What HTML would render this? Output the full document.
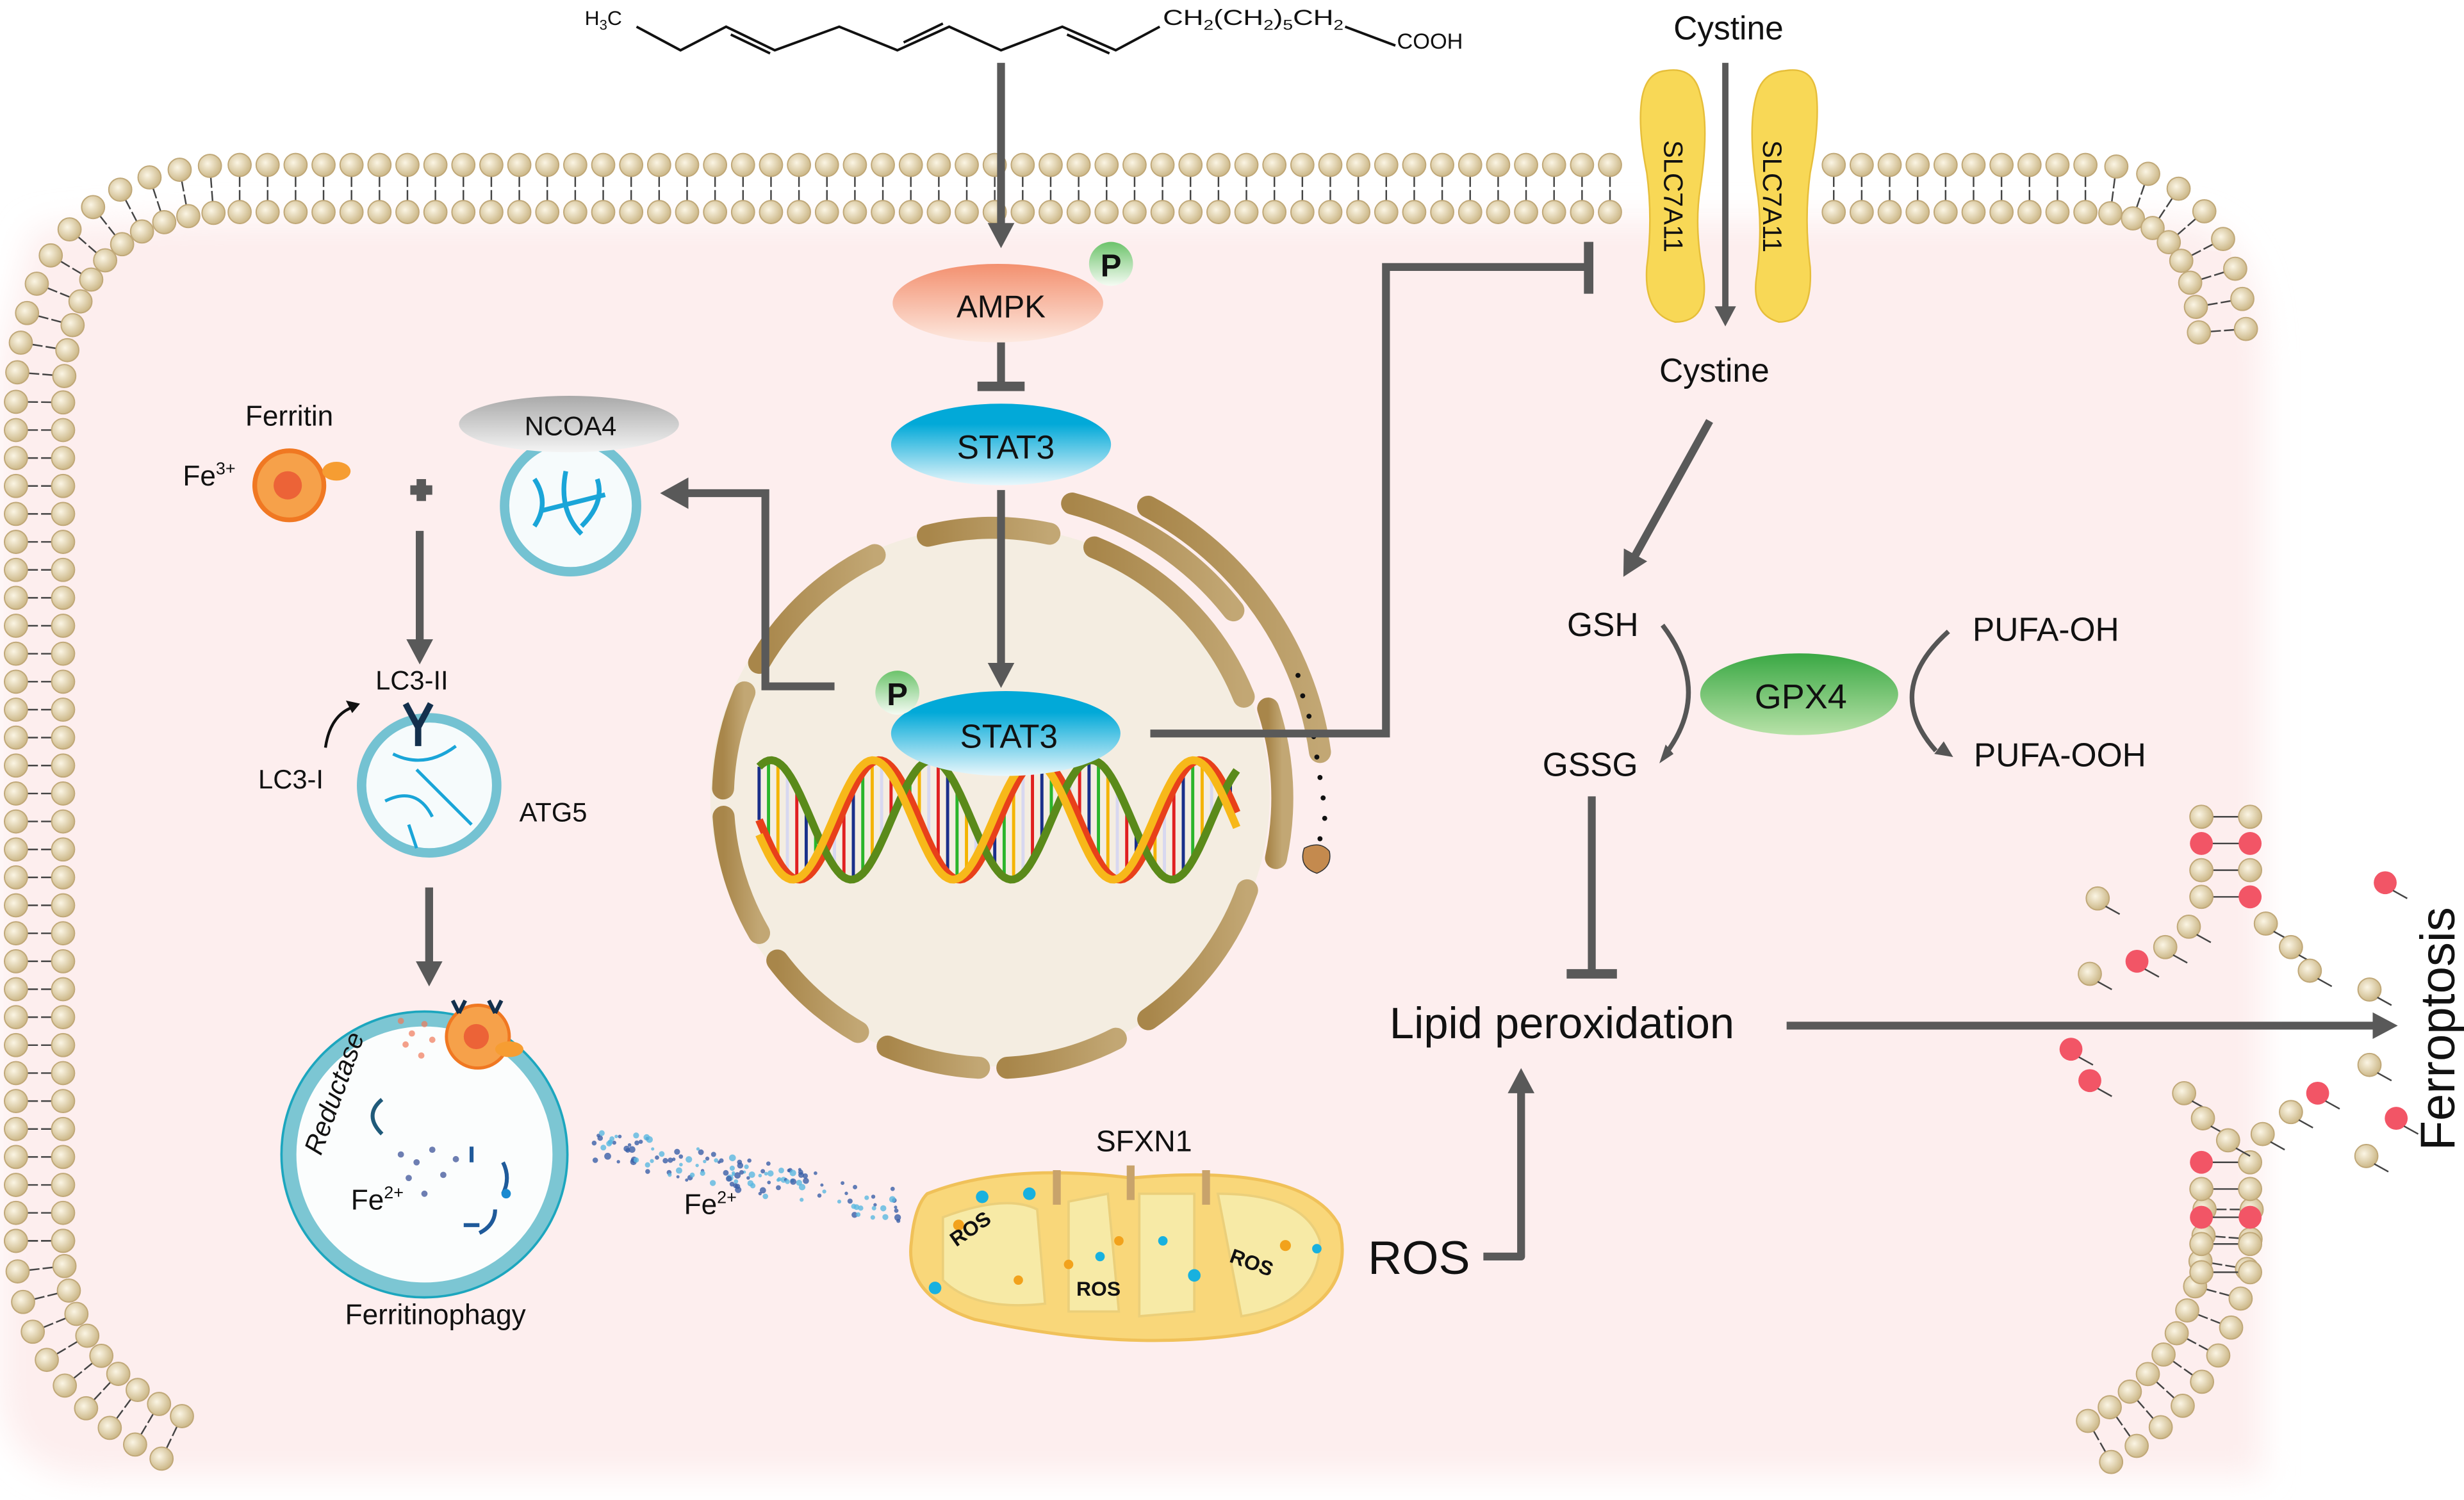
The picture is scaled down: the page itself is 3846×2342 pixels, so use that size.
<!DOCTYPE html>
<html><head><meta charset="utf-8">
<style>
html,body{margin:0;padding:0;background:#fff;}
svg{display:block;}
text{font-family:"Liberation Sans",Arial,sans-serif;fill:#111;}
</style></head>
<body>
<svg id="s" width="3846" height="2342" viewBox="0 0 1568 955" xmlns="http://www.w3.org/2000/svg">
<defs>
<radialGradient id="bead" cx="0.4" cy="0.4" r="0.6"><stop offset="0" stop-color="#fbf5e4"/><stop offset="1" stop-color="#cdb98a"/></radialGradient>
<linearGradient id="ampk" x1="0" y1="0" x2="0" y2="1"><stop offset="0" stop-color="#f3906f"/><stop offset="1" stop-color="#fde9e0"/></linearGradient>
<linearGradient id="stat" x1="0" y1="0" x2="0" y2="1"><stop offset="0.25" stop-color="#02a9d8"/><stop offset="1" stop-color="#e9f7fc"/></linearGradient>
<linearGradient id="gpx" x1="0" y1="0" x2="0" y2="1"><stop offset="0" stop-color="#3aa844"/><stop offset="1" stop-color="#b8e2a8"/></linearGradient>
<linearGradient id="pgr" x1="0" y1="0" x2="0" y2="1"><stop offset="0" stop-color="#6cc36b"/><stop offset="1" stop-color="#f5fbf3"/></linearGradient>
<linearGradient id="ncoa" x1="0" y1="0" x2="0" y2="1"><stop offset="0" stop-color="#a9a9a9"/><stop offset="1" stop-color="#f4f4f4"/></linearGradient>
<linearGradient id="brown" x1="0" y1="0" x2="1" y2="0"><stop offset="0" stop-color="#a8864a"/><stop offset="1" stop-color="#c2a774"/></linearGradient>
<filter id="blur" x="-10%" y="-10%" width="120%" height="120%"><feGaussianBlur stdDeviation="10"/></filter>
<marker id="ah" markerWidth="4" markerHeight="4" refX="2" refY="2" orient="auto" markerUnits="strokeWidth"><path d="M0,0.3 L3.2,2 L0,3.7 Z" fill="#595959"/></marker>
</defs>

<path d="M 20 150 Q 20 140 150 140 L 1380 140 Q 1440 140 1440 230 L 1440 520 L 1440 940 L 60 940 Q 0 940 0 880 L 0 230 Z" fill="#fdeeee" filter="url(#blur)"/>
<rect x="60" y="160" width="1360" height="760" fill="#fdeeee"/>

<g id="mem"></g>

<g fill="none" stroke="#111" stroke-width="1.6">
<polyline points="405,17 433,32 462,17 493,32 534,17 571,32 604,17 637,32 676,17 710,32 738,17"/>
<line x1="465" y1="22" x2="490" y2="34"/><line x1="575" y1="27" x2="600" y2="15"/><line x1="679" y1="22" x2="706" y2="34"/>
<line x1="856" y1="17" x2="888" y2="29"/>
</g>
<text x="372" y="16" font-size="13">H<tspan font-size="9" dy="3">3</tspan><tspan dy="-3">C</tspan></text>
<text x="740" y="16" font-size="14" textLength="115" lengthAdjust="spacingAndGlyphs">CH<tspan font-size="9" dy="3">2</tspan><tspan dy="-3">(CH</tspan><tspan font-size="9" dy="3">2</tspan><tspan dy="-3">)</tspan><tspan font-size="9" dy="3">5</tspan><tspan dy="-3">CH</tspan><tspan font-size="9" dy="3">2</tspan></text>
<text x="889" y="31" font-size="14">COOH</text>

<ellipse cx="630" cy="507" rx="178" ry="172" fill="#f4ede1"/>
<g id="ring" fill="none" stroke="url(#brown)" stroke-width="14" stroke-linecap="round"></g>
<g fill="#111"><circle cx="826" cy="430" r="1.6"/><circle cx="829" cy="443" r="1.6"/><circle cx="833" cy="456" r="1.6"/><circle cx="836" cy="469" r="1.6"/><circle cx="838" cy="482" r="1.6"/><circle cx="840" cy="495" r="1.6"/><circle cx="842" cy="508" r="1.6"/><circle cx="843" cy="521" r="1.6"/><circle cx="840" cy="534" r="1.6"/></g>
<path d="M 830 540 Q 840 535 846 542 Q 848 552 838 556 Q 826 552 830 540 Z" fill="#c48a4e" stroke="#333" stroke-width="0.6"/>

<g id="dna"></g>

<line x1="637" y1="40" x2="637" y2="152" stroke="#595959" stroke-width="5" marker-end="url(#ah)"/>
<ellipse cx="635" cy="193" rx="67" ry="25" fill="url(#ampk)"/>
<text x="637" y="202" font-size="20" text-anchor="middle">AMPK</text>
<circle cx="707" cy="168" r="14" fill="url(#pgr)"/>
<text x="707" y="176" font-size="20" font-weight="bold" text-anchor="middle">P</text>
<line x1="637" y1="218" x2="637" y2="246" stroke="#595959" stroke-width="5"/>
<line x1="622" y1="246" x2="652" y2="246" stroke="#595959" stroke-width="6"/>
<ellipse cx="637" cy="283" rx="70" ry="26" fill="url(#stat)"/>
<text x="640" y="292" font-size="21" text-anchor="middle">STAT3</text>
<line x1="637" y1="312" x2="637" y2="432" stroke="#595959" stroke-width="5" marker-end="url(#ah)"/>
<ellipse cx="640" cy="467" rx="73" ry="27" fill="url(#stat)"/>
<text x="642" y="476" font-size="21" text-anchor="middle">STAT3</text>
<circle cx="571" cy="441" r="14" fill="url(#pgr)"/>
<text x="571" y="449" font-size="20" font-weight="bold" text-anchor="middle">P</text>

<polyline points="531,437 487,437 487,314 436,314" fill="none" stroke="#595959" stroke-width="5"/>
<path d="M 420 314 L 438 304 L 438 324 Z" fill="#595959"/>
<polyline points="732,467 882,467 882,170 1010,170" fill="none" stroke="#595959" stroke-width="5"/>
<line x1="1011" y1="154" x2="1011" y2="187" stroke="#595959" stroke-width="6"/>

<path d="M 1060 45 Q 1078 42 1082 60 Q 1088 80 1082 120 Q 1078 145 1084 175 Q 1088 205 1066 205 Q 1046 200 1048 170 Q 1052 140 1048 110 Q 1042 80 1045 62 Q 1048 46 1060 45 Z" fill="#f8d856" stroke="#e6be3a" stroke-width="1"/>
<path d="M 1136 45 Q 1154 42 1156 60 Q 1158 80 1152 110 Q 1148 140 1152 170 Q 1154 205 1132 205 Q 1114 200 1118 175 Q 1122 145 1118 120 Q 1112 80 1118 60 Q 1122 46 1136 45 Z" fill="#f8d856" stroke="#e6be3a" stroke-width="1"/>
<text transform="translate(1059,125) rotate(90)" font-size="17" text-anchor="middle">SLC7A11</text>
<text transform="translate(1122,125) rotate(90)" font-size="17" text-anchor="middle">SLC7A11</text>
<text x="1100" y="25" font-size="21" text-anchor="middle">Cystine</text>
<line x1="1098" y1="40" x2="1098" y2="203" stroke="#595959" stroke-width="4" marker-end="url(#ah)"/>
<text x="1091" y="243" font-size="21" text-anchor="middle">Cystine</text>
<line x1="1088" y1="268" x2="1036" y2="362" stroke="#595959" stroke-width="5" marker-end="url(#ah)"/>

<text x="1020" y="405" font-size="21" text-anchor="middle">GSH</text>
<text x="1012" y="494" font-size="21" text-anchor="middle">GSSG</text>
<path d="M 1058 398 Q 1090 440 1060 480" fill="none" stroke="#555" stroke-width="3"/>
<path d="M 1056 486 l 4 -12 l 5 6 Z" fill="#555"/>
<ellipse cx="1145" cy="442" rx="63" ry="26" fill="url(#gpx)"/>
<text x="1146" y="451" font-size="22" text-anchor="middle">GPX4</text>
<path d="M 1240 402 Q 1198 440 1232 478" fill="none" stroke="#555" stroke-width="3"/>
<path d="M 1243 482 l -12 -2 l 6 -8 Z" fill="#555"/>
<text x="1302" y="408" font-size="21" text-anchor="middle">PUFA-OH</text>
<text x="1311" y="488" font-size="21" text-anchor="middle">PUFA-OOH</text>
<line x1="1013" y1="507" x2="1013" y2="620" stroke="#595959" stroke-width="5"/>
<line x1="997" y1="620" x2="1029" y2="620" stroke="#595959" stroke-width="6"/>
<text x="994" y="661" font-size="28" text-anchor="middle">Lipid peroxidation</text>
<line x1="1137" y1="653" x2="1520" y2="653" stroke="#595959" stroke-width="5" marker-end="url(#ah)"/>
<text transform="translate(1562,655) rotate(-90)" font-size="31" text-anchor="middle">Ferroptosis</text>

<text x="903" y="811" font-size="30" text-anchor="middle">ROS</text>
<polyline points="944,800 968,800 968,686" fill="none" stroke="#595959" stroke-width="5" stroke-linejoin="round" marker-end="url(#ah)"/>
<g>
<path d="M 590 760 Q 640 740 720 750 Q 830 740 852 780 Q 865 830 800 848 Q 720 862 620 840 Q 575 825 580 790 Q 582 768 590 760 Z" fill="#f9d77a" stroke="#f0c159" stroke-width="2"/>
<path d="M 600 775 Q 640 760 660 770 L 665 830 Q 620 835 600 815 Z M 680 765 L 705 760 L 712 835 L 680 835 Z M 725 760 L 760 760 L 760 835 L 725 838 Z M 775 760 Q 830 760 840 790 Q 840 830 790 838 Z" fill="#f7eaa6" stroke="#ebcf7a" stroke-width="1.5"/>
<g fill="#18b1df"><circle cx="625" cy="762" r="4"/><circle cx="655" cy="760" r="4"/><circle cx="700" cy="800" r="3"/><circle cx="760" cy="812" r="4"/><circle cx="595" cy="820" r="4"/><circle cx="740" cy="790" r="3"/><circle cx="838" cy="795" r="3"/></g>
<g fill="#f2a21c"><circle cx="610" cy="780" r="3.5"/><circle cx="680" cy="805" r="3"/><circle cx="712" cy="790" r="3"/><circle cx="818" cy="793" r="3.5"/><circle cx="648" cy="815" r="3"/></g>
<g fill="#c8a36b"><rect x="670" y="745" width="5" height="22"/><rect x="717" y="742" width="5" height="22"/><rect x="765" y="745" width="5" height="22"/></g>
<g font-size="13" font-weight="bold"><text transform="translate(620,786) rotate(-35)" text-anchor="middle">ROS</text><text x="699" y="825" text-anchor="middle">ROS</text><text transform="translate(795,808) rotate(20)" text-anchor="middle">ROS</text></g>
</g>
<text x="728" y="733" font-size="19" text-anchor="middle">SFXN1</text>
<text x="452" y="773" font-size="18" text-anchor="middle">Fe<tspan font-size="11" dy="-7">2+</tspan></text>
<g id="fedots"></g>

<text x="184" y="271" font-size="18" text-anchor="middle">Ferritin</text>
<text x="133" y="309" font-size="18" text-anchor="middle">Fe<tspan font-size="11" dy="-7">3+</tspan></text>
<circle cx="184" cy="309" r="22" fill="#f6a14a" stroke="#f07822" stroke-width="3"/>
<circle cx="183" cy="309" r="9" fill="#e63b2b" opacity="0.6"/>
<ellipse cx="214" cy="300" rx="9" ry="6" fill="#f69d32"/>
<path d="M 261 312 h 14 M 268 305 v 14" stroke="#595959" stroke-width="6"/>
<circle cx="363" cy="322" r="42" fill="#f6fbfc" stroke="#74c2d2" stroke-width="6"/>
<g stroke="#1aa5d8" stroke-width="3" fill="none"><path d="M 340 305 q 10 15 0 30"/><path d="M 360 300 q -5 25 10 40"/><path d="M 380 305 q 5 15 -10 30"/><path d="M 345 325 l 40 -10"/></g>
<ellipse cx="362" cy="270" rx="70" ry="18" fill="url(#ncoa)"/>
<text x="363" y="277" font-size="17" text-anchor="middle">NCOA4</text>
<line x1="267" y1="338" x2="267" y2="417" stroke="#595959" stroke-width="5" marker-end="url(#ah)"/>

<circle cx="273" cy="500" r="43" fill="#f6fbfc" stroke="#74c2d2" stroke-width="6"/>
<g stroke="#1aa5d8" stroke-width="2" fill="none"><path d="M 250 480 q 20 10 40 -5"/><path d="M 245 510 q 20 -10 30 10"/><path d="M 265 490 q 20 20 35 35"/><path d="M 260 525 l 5 15"/></g>
<path d="M 258 448 l 8 15 l 8 -15 M 266 463 v 12" stroke="#13304d" stroke-width="4" fill="none"/>
<text x="262" y="439" font-size="17" text-anchor="middle">LC3-II</text>
<text x="185" y="502" font-size="17" text-anchor="middle">LC3-I</text>
<text x="352" y="523" font-size="17" text-anchor="middle">ATG5</text>
<path d="M 207 476 Q 210 455 225 450" fill="none" stroke="#111" stroke-width="1.8"/>
<path d="M 229 448 l -9 -2 l 4 8 Z" fill="#111"/>
<line x1="273" y1="565" x2="273" y2="622" stroke="#595959" stroke-width="5" marker-end="url(#ah)"/>

<circle cx="270" cy="735" r="86" fill="#fbfdfd" stroke="#7cc6d3" stroke-width="9"/>
<circle cx="270" cy="735" r="91" fill="none" stroke="#1ca6be" stroke-width="1.5"/>
<text transform="translate(218,698) rotate(-70)" font-size="17" font-style="italic" text-anchor="middle">Reductase</text>
<circle cx="304" cy="660" r="20" fill="#f6a14a" stroke="#f07822" stroke-width="2"/>
<circle cx="303" cy="660" r="8" fill="#e63b2b" opacity="0.6"/>
<ellipse cx="324" cy="668" rx="9" ry="5" fill="#f69d32"/>
<path d="M 292 645 l -4 -8 M 292 645 l 4 -8 M 315 645 l -4 -8 M 315 645 l 4 -8" stroke="#13304d" stroke-width="2.5"/>
<g fill="#f07a5a" opacity="0.7"><circle cx="255" cy="650" r="2"/><circle cx="262" cy="658" r="2"/><circle cx="270" cy="652" r="2"/><circle cx="258" cy="665" r="2"/><circle cx="275" cy="662" r="2"/><circle cx="268" cy="672" r="2"/></g>
<path d="M 243 700 q -12 10 0 22" fill="none" stroke="#1f5a7a" stroke-width="2.5"/>
<g fill="#4a5fa0" opacity="0.8"><circle cx="255" cy="735" r="2"/><circle cx="265" cy="740" r="2"/><circle cx="275" cy="732" r="2"/><circle cx="260" cy="750" r="2"/><circle cx="282" cy="748" r="2"/><circle cx="270" cy="760" r="2"/><circle cx="290" cy="738" r="2"/></g>
<path d="M 300 730 v 10 M 320 740 q 5 10 0 20 M 295 780 h 10 M 315 770 q 0 10 -10 15" stroke="#1f5a9a" stroke-width="2.5" fill="none"/>
<circle cx="322" cy="760" r="3" fill="#1a8ad0"/>
<text x="240" y="770" font-size="18" text-anchor="middle">Fe<tspan font-size="11" dy="-7">2+</tspan></text>
<text x="277" y="843" font-size="18" text-anchor="middle">Ferritinophagy</text>

<script>
(function(){
var NS="http://www.w3.org/2000/svg";
function el(p,t,a){var e=document.createElementNS(NS,t);for(var k in a)e.setAttribute(k,a[k]);p.appendChild(e);return e;}
// nucleus ring
var ring=document.getElementById("ring");
function arc(cx,cy,r,a1,a2){var p1=[cx+r*Math.cos(a1*Math.PI/180),cy+r*Math.sin(a1*Math.PI/180)],p2=[cx+r*Math.cos(a2*Math.PI/180),cy+r*Math.sin(a2*Math.PI/180)];
 el(ring,"path",{d:"M"+p1[0].toFixed(1)+" "+p1[1].toFixed(1)+" A"+r+" "+r+" 0 0 1 "+p2[0].toFixed(1)+" "+p2[1].toFixed(1)});}
var cx=632,cy=508,R=172;
[[-104,-78],[-150,-116],[-178,-157],[150,176],[120,143],[93,113],[63,87],[20,55]].forEach(function(s){arc(cx,cy,R,s[0],s[1]);});
// ER
arc(cx,cy,R,-68,-22);
arc(cx,cy,R+22,-75,-38);
arc(cx,cy,R+38,-62,-8);
arc(cx,cy,R+12,-18,12);
var mem=document.getElementById("mem");
function bead(x,y,red){el(mem,"circle",{cx:x,cy:y,r:7.3,fill:red?"#f25566":"url(#bead)",stroke:red?"none":"#c0a878","stroke-width":0.8});}
function tail(x1,y1,x2,y2){el(mem,"line",{x1:x1,y1:y1,x2:x2,y2:y2,stroke:"#444","stroke-width":1});}
var paths=["M 25 790 L 25 260 Q 25 120 150 120 L 1330 120 Q 1415 120 1415 228",
           "M 25 790 Q 25 880 120 920",
           "M 1418 770 Q 1418 880 1322 925"];
paths.forEach(function(d){
 var p=el(mem,"path",{d:d,fill:"none",stroke:"none"});
 var L=p.getTotalLength();
 for(var s=0;s<=L;s+=17.8){
   var a=p.getPointAtLength(s),b=p.getPointAtLength(Math.min(L,s+0.5)),c=p.getPointAtLength(Math.max(0,s-0.5));
   var dx=b.x-c.x,dy=b.y-c.y,n=Math.hypot(dx,dy)||1;var nx=-dy/n,ny=dx/n;
   if(a.y<135&&a.x>1040&&a.x<1160)continue;
   tail(a.x+nx*8,a.y+ny*8,a.x+nx*1,a.y+ny*1);tail(a.x-nx*8,a.y-ny*8,a.x-nx*1,a.y-ny*1);
   bead(a.x+nx*15,a.y+ny*15);bead(a.x-nx*15,a.y-ny*15);
 }
});
var pairs=[[520,0,0],[537,1,1],[554,0,0],[571,0,1],[740,1,0],[757,0,0],[775,1,1],[792,0,0],[810,0,0]];
pairs.forEach(function(q){tail(1408,q[0],1425,q[0]);bead(1401,q[0],q[1]);bead(1432,q[0],q[2]);});
var sc=[[1393,590,0],[1378,603,0],[1360,612,1],[1330,620,0],[1335,572,0],[1442,588,0],[1458,603,0],[1470,618,0],[1518,562,1],[1508,630,0],[1318,668,1],[1330,688,1],[1390,696,0],[1402,712,0],[1418,726,0],[1440,722,0],[1458,708,0],[1475,696,1],[1508,678,0],[1525,712,1],[1506,736,0]];
sc.forEach(function(q){bead(q[0],q[1],q[2]);tail(q[0]+5,q[1]+5,q[0]+14,q[1]+10);});
var dna=document.getElementById("dna");
var x0=483,x1=788,yc=522,A=38,per=102;
var cols=["#1a2f8a","#2bb52b","#f4b400","#d8d8f0","#e02020"];
for(var x=x0;x<=x1;x+=6){var y1=yc+A*Math.sin((x-x0)/per*2*Math.PI),y2=yc-A*Math.sin((x-x0)/per*2*Math.PI+1.1);
 el(dna,"line",{x1:x,y1:y1,x2:x,y2:y2,stroke:cols[(x/6|0)%5],"stroke-width":2});}
function strand(ph,c1){var d="";for(var x=x0;x<=x1;x+=2){var y=yc+A*Math.sin((x-x0)/per*2*Math.PI+ph);d+=(x==x0?"M":"L")+x+" "+y.toFixed(1);}
 el(dna,"path",{d:d,fill:"none",stroke:c1,"stroke-width":5});}
strand(0,"#e8401a");strand(Math.PI+1.1,"#5a8a1a");
strand(0.25,"#f7b81a");
var fd=document.getElementById("fedots");
var seed=7;function r(){seed=(seed*9301+49297)%233280;return seed/233280;}
for(var i=0;i<140;i++){var t=r();var x=378+t*200,y=728+t*42+(r()-0.5)*22;
 el(fd,"circle",{cx:x,cy:y,r:1+r()*1.2,fill:r()<0.5?"#3a5fa8":"#5ab8e0",opacity:0.8});}
})();
</script>
</svg>
</body></html>
